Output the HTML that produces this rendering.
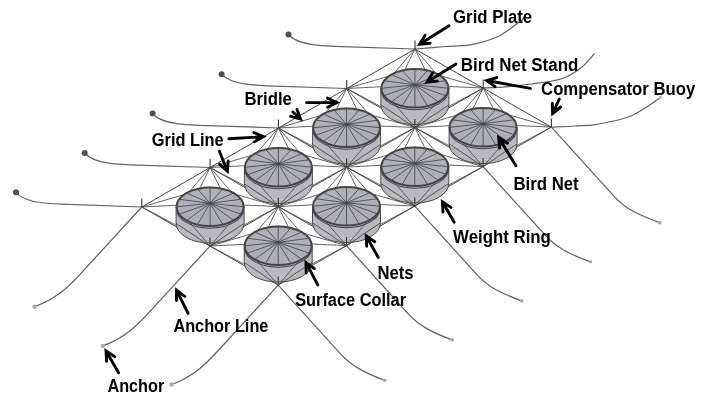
<!DOCTYPE html>
<html><head><meta charset="utf-8"><title>Net pen grid mooring</title>
<style>
html,body{margin:0;padding:0;background:#fff}
svg{display:block}
.l{fill:none;stroke:#4a4a4a;stroke-width:.85}
.g{fill:none;stroke:#444;stroke-width:1}
.a{fill:none;stroke:#646464;stroke-width:1.25;stroke-linecap:round}
.b{fill:none;stroke:#333;stroke-width:1.1}
.body{fill:#b0b0b8;fill-opacity:.9;stroke:#4a4a50;stroke-width:1}
.wr{fill:none;stroke:#c6c6cc;stroke-width:1}
.top{fill:#aeaeb6;fill-opacity:.96;stroke:none}
.rim{fill:none;stroke:#45454a;stroke-width:2}
.rim2{fill:none;stroke:#45454a;stroke-width:1.1}
.sp{fill:none;stroke:#4c4c52;stroke-width:.9}
.ar{fill:none;stroke:#000;stroke-width:2.9;stroke-linecap:round;stroke-linejoin:miter;stroke-miterlimit:10}
.t text{font-family:"Liberation Sans",sans-serif;font-weight:bold;font-size:17.5px;fill:#000}
</style></head><body>
<svg width="713" height="413" viewBox="0 0 713 413">
<defs><filter id="nf" x="0" y="0" width="713" height="413" filterUnits="userSpaceOnUse"><feOffset dx="0" dy="0"/></filter></defs>
<rect width="713" height="413" fill="#fff"/>
<g><path class="a" d="M288.5 34.5C292.5 39 300.6 43.1 312.8 44.6C318.9 45.4 324.9 45.8 334 46.3L415 49"/><circle cx="288.5" cy="34.5" r="3" fill="#505050"/><path class="a" d="M221.6 74.2C225.6 78.7 233.6 82.6 245.6 84.1C251.6 84.9 257.6 85.3 266.6 85.8L346.7 88.5"/><circle cx="221.6" cy="74.2" r="3" fill="#505050"/><path class="a" d="M152.6 113.5C156.6 118 164.7 122.1 176.8 123.6C182.8 124.4 188.8 124.8 197.9 125.3L278.4 128"/><circle cx="152.6" cy="113.5" r="3" fill="#505050"/><path class="a" d="M84.7 153C88.7 157.5 96.7 161.6 108.8 163.1C114.8 163.9 120.8 164.3 129.8 164.8L210.1 167.5"/><circle cx="84.7" cy="153" r="3" fill="#505050"/><path class="a" d="M16 192.3C20 196.9 28.1 201 40.2 202.5C46.2 203.3 52.2 203.7 61.3 204.2L141.8 207"/><circle cx="16" cy="192.3" r="3" fill="#505050"/><path class="a" d="M141.8 207L79.6 274.8C68.8 286.5 56 299 34.5 306.7"/><circle cx="34.5" cy="306.7" r="2.2" fill="#aaa"/><path class="a" d="M210 246.1L147.9 313.7C137.2 325.4 124.4 338.2 103 345.9"/><circle cx="103" cy="345.9" r="2.2" fill="#aaa"/><path class="a" d="M278.2 285.1L216.4 352.5C205.7 364.1 192.9 376.8 171.6 384.5"/><circle cx="171.6" cy="384.5" r="2.2" fill="#aaa"/><path class="a" d="M551.4 127.1L614.4 196.7C625.2 208.7 638.3 215 660 222.8"/><circle cx="660" cy="222.8" r="1.8" fill="#aaa"/><path class="a" d="M483.1 166.6L545.4 235.4C556.1 247.3 569 254.1 590.5 261.8"/><circle cx="590.5" cy="261.8" r="1.8" fill="#aaa"/><path class="a" d="M414.8 206.1L476.8 274.6C487.5 286.4 500.3 293.2 521.7 300.9"/><circle cx="521.7" cy="300.9" r="1.8" fill="#aaa"/><path class="a" d="M346.5 245.6L407.8 313.3C418.4 325 431.1 332.3 452.2 339.9"/><circle cx="452.2" cy="339.9" r="1.8" fill="#aaa"/><path class="a" d="M278.2 285.1L340 353.4C350.7 365.2 363.5 372.6 384.8 380.3"/><circle cx="384.8" cy="380.3" r="1.8" fill="#aaa"/><path class="a" d="M415 49C420 48.6 435.8 47.2 445 46.5C454.2 45.8 461.2 46.6 470 44.9C478.8 43.2 489.6 40.5 498 36.5C506.4 32.5 516.3 24.2 520.6 21C524.9 17.8 523.4 18.1 524 17.5"/><path class="a" d="M483.2 88C487.7 87.8 501.9 87.2 510 86.5C518.1 85.8 523 85.3 531.8 84C540.6 82.7 554.3 81.3 562.7 78.5C571.1 75.7 576.8 71.1 582 67C587.2 62.9 592 56.2 594 54"/><path class="a" d="M551.4 127.1C555.3 126.9 567.4 126.5 575 126C582.6 125.5 587.7 126 597 124.3C606.3 122.6 620.2 120.4 630.8 116C641.3 111.6 655.4 100.8 660.3 97.7"/><circle cx="660.3" cy="97.5" r="1.8" fill="#bbb"/></g>
<g><path class="g" d="M415 49L551.4 127.1"/><path class="g" d="M346.7 88.5L483.1 166.6"/><path class="g" d="M278.4 128L414.8 206.1"/><path class="g" d="M210.1 167.5L346.5 245.6"/><path class="g" d="M141.8 207L278.2 285.1"/><path class="g" d="M415 49L141.8 207"/><path class="g" d="M483.2 88L210 246.1"/><path class="g" d="M551.4 127.1L278.2 285.1"/></g>
<g><path class="l" d="M415 49L380.9 88.3"/><path class="l" d="M415 49L448.9 88.3"/><path class="l" d="M415 49L405 69.3"/><path class="l" d="M415 49L424.9 69.3"/><path class="l" d="M346.7 88.5L414.9 68.5"/><path class="l" d="M346.7 88.5L414.9 85"/><path class="l" d="M346.7 88.5L414.9 124.6"/><path class="l" d="M483.2 88L414.9 68.5"/><path class="l" d="M483.2 88L414.9 85"/><path class="l" d="M483.2 88L414.9 124.6"/><path class="l" d="M483.2 88L449.1 127.3"/><path class="l" d="M483.2 88L517.1 127.3"/><path class="l" d="M483.2 88L473.2 108.4"/><path class="l" d="M483.2 88L493.1 108.4"/><path class="l" d="M414.9 127.5L483.1 107.5"/><path class="l" d="M414.9 127.5L483.1 124"/><path class="l" d="M414.9 127.5L483.1 163.6"/><path class="l" d="M551.4 127.1L483.1 107.5"/><path class="l" d="M551.4 127.1L483.1 124"/><path class="l" d="M551.4 127.1L483.1 163.6"/><path class="l" d="M346.7 88.5L312.6 127.8"/><path class="l" d="M346.7 88.5L380.6 127.8"/><path class="l" d="M346.7 88.5L336.7 108.8"/><path class="l" d="M346.7 88.5L356.6 108.8"/><path class="l" d="M278.4 128L346.6 108"/><path class="l" d="M278.4 128L346.6 124.5"/><path class="l" d="M278.4 128L346.6 164.1"/><path class="l" d="M414.9 127.5L346.6 108"/><path class="l" d="M414.9 127.5L346.6 124.5"/><path class="l" d="M414.9 127.5L346.6 164.1"/><path class="l" d="M414.9 127.5L380.8 166.8"/><path class="l" d="M414.9 127.5L448.8 166.8"/><path class="l" d="M414.9 127.5L404.9 147.9"/><path class="l" d="M414.9 127.5L424.8 147.9"/><path class="l" d="M346.6 167.1L414.8 147"/><path class="l" d="M346.6 167.1L414.8 163.5"/><path class="l" d="M346.6 167.1L414.8 203.1"/><path class="l" d="M483.1 166.6L414.8 147"/><path class="l" d="M483.1 166.6L414.8 163.5"/><path class="l" d="M483.1 166.6L414.8 203.1"/><path class="l" d="M278.4 128L244.4 167.3"/><path class="l" d="M278.4 128L312.4 167.3"/><path class="l" d="M278.4 128L268.4 148.3"/><path class="l" d="M278.4 128L288.3 148.3"/><path class="l" d="M210.1 167.5L278.4 147.5"/><path class="l" d="M210.1 167.5L278.4 164"/><path class="l" d="M210.1 167.5L278.4 203.6"/><path class="l" d="M346.6 167.1L278.4 147.5"/><path class="l" d="M346.6 167.1L278.4 164"/><path class="l" d="M346.6 167.1L278.4 203.6"/><path class="l" d="M346.6 167.1L312.5 206.3"/><path class="l" d="M346.6 167.1L380.5 206.3"/><path class="l" d="M346.6 167.1L336.6 187.4"/><path class="l" d="M346.6 167.1L356.5 187.4"/><path class="l" d="M278.3 206.6L346.5 186.5"/><path class="l" d="M278.3 206.6L346.5 203"/><path class="l" d="M278.3 206.6L346.5 242.6"/><path class="l" d="M414.8 206.1L346.5 186.5"/><path class="l" d="M414.8 206.1L346.5 203"/><path class="l" d="M414.8 206.1L346.5 242.6"/><path class="l" d="M210.1 167.5L176.1 206.8"/><path class="l" d="M210.1 167.5L244.1 206.8"/><path class="l" d="M210.1 167.5L200.1 187.8"/><path class="l" d="M210.1 167.5L220 187.8"/><path class="l" d="M141.8 207L210.1 187"/><path class="l" d="M141.8 207L210.1 203.5"/><path class="l" d="M141.8 207L210.1 243.1"/><path class="l" d="M278.3 206.6L210.1 187"/><path class="l" d="M278.3 206.6L210.1 203.5"/><path class="l" d="M278.3 206.6L210.1 243.1"/><path class="l" d="M278.3 206.6L244.2 245.8"/><path class="l" d="M278.3 206.6L312.2 245.8"/><path class="l" d="M278.3 206.6L268.3 226.9"/><path class="l" d="M278.3 206.6L288.2 226.9"/><path class="l" d="M210 246.1L278.2 226"/><path class="l" d="M210 246.1L278.2 242.5"/><path class="l" d="M210 246.1L278.2 282.1"/><path class="l" d="M346.5 245.6L278.2 226"/><path class="l" d="M346.5 245.6L278.2 242.5"/><path class="l" d="M346.5 245.6L278.2 282.1"/></g>
<g><g transform="translate(414.9 88.3)"><path class="body" d="M-34 0V16.5A34 19.8 0 0 0 34 16.5V0Z"/><path class="wr" d="M-32.5 13.5A32.5 18.8 0 0 0 32.5 13.5"/><path class="l" d="M-34 16.5L0 39.3L34 16.5"/><path class="l" d="M-34 0L0 39.3L34 0"/><ellipse class="top" rx="34" ry="19.8"/><path class="sp" d="M0 -3.5L34 0M0 -3.5L31.4 7.6M0 -3.5L24 14M0 -3.5L13 18.3M0 -3.5L0 19.8M0 -3.5L-13 18.3M0 -3.5L-24 14M0 -3.5L-31.4 7.6M0 -3.5L-34 0M0 -3.5L-31.4 -7.6M0 -3.5L-24 -14M0 -3.5L-13 -18.3M0 -3.5L-0 -19.8M0 -3.5L13 -18.3M0 -3.5L24 -14M0 -3.5L31.4 -7.6"/><ellipse class="rim" rx="33.5" ry="19.3"/><path class="rim2" d="M-33.7 1.6A33.7 19.8 0 0 0 33.7 1.6"/><circle cx="0" cy="-3.5" r="1.1" fill="#444"/></g><g transform="translate(483.1 127.3)"><path class="body" d="M-34 0V16.5A34 19.8 0 0 0 34 16.5V0Z"/><path class="wr" d="M-32.5 13.5A32.5 18.8 0 0 0 32.5 13.5"/><path class="l" d="M-34 16.5L0 39.3L34 16.5"/><path class="l" d="M-34 0L0 39.3L34 0"/><ellipse class="top" rx="34" ry="19.8"/><path class="sp" d="M0 -3.5L34 0M0 -3.5L31.4 7.6M0 -3.5L24 14M0 -3.5L13 18.3M0 -3.5L0 19.8M0 -3.5L-13 18.3M0 -3.5L-24 14M0 -3.5L-31.4 7.6M0 -3.5L-34 0M0 -3.5L-31.4 -7.6M0 -3.5L-24 -14M0 -3.5L-13 -18.3M0 -3.5L-0 -19.8M0 -3.5L13 -18.3M0 -3.5L24 -14M0 -3.5L31.4 -7.6"/><ellipse class="rim" rx="33.5" ry="19.3"/><path class="rim2" d="M-33.7 1.6A33.7 19.8 0 0 0 33.7 1.6"/><circle cx="0" cy="-3.5" r="1.1" fill="#444"/></g><g transform="translate(346.6 127.8)"><path class="body" d="M-34 0V16.5A34 19.8 0 0 0 34 16.5V0Z"/><path class="wr" d="M-32.5 13.5A32.5 18.8 0 0 0 32.5 13.5"/><path class="l" d="M-34 16.5L0 39.3L34 16.5"/><path class="l" d="M-34 0L0 39.3L34 0"/><ellipse class="top" rx="34" ry="19.8"/><path class="sp" d="M0 -3.5L34 0M0 -3.5L31.4 7.6M0 -3.5L24 14M0 -3.5L13 18.3M0 -3.5L0 19.8M0 -3.5L-13 18.3M0 -3.5L-24 14M0 -3.5L-31.4 7.6M0 -3.5L-34 0M0 -3.5L-31.4 -7.6M0 -3.5L-24 -14M0 -3.5L-13 -18.3M0 -3.5L-0 -19.8M0 -3.5L13 -18.3M0 -3.5L24 -14M0 -3.5L31.4 -7.6"/><ellipse class="rim" rx="33.5" ry="19.3"/><path class="rim2" d="M-33.7 1.6A33.7 19.8 0 0 0 33.7 1.6"/><circle cx="0" cy="-3.5" r="1.1" fill="#444"/></g><g transform="translate(414.8 166.8)"><path class="body" d="M-34 0V16.5A34 19.8 0 0 0 34 16.5V0Z"/><path class="wr" d="M-32.5 13.5A32.5 18.8 0 0 0 32.5 13.5"/><path class="l" d="M-34 16.5L0 39.3L34 16.5"/><path class="l" d="M-34 0L0 39.3L34 0"/><ellipse class="top" rx="34" ry="19.8"/><path class="sp" d="M0 -3.5L34 0M0 -3.5L31.4 7.6M0 -3.5L24 14M0 -3.5L13 18.3M0 -3.5L0 19.8M0 -3.5L-13 18.3M0 -3.5L-24 14M0 -3.5L-31.4 7.6M0 -3.5L-34 0M0 -3.5L-31.4 -7.6M0 -3.5L-24 -14M0 -3.5L-13 -18.3M0 -3.5L-0 -19.8M0 -3.5L13 -18.3M0 -3.5L24 -14M0 -3.5L31.4 -7.6"/><ellipse class="rim" rx="33.5" ry="19.3"/><path class="rim2" d="M-33.7 1.6A33.7 19.8 0 0 0 33.7 1.6"/><circle cx="0" cy="-3.5" r="1.1" fill="#444"/></g><g transform="translate(278.4 167.3)"><path class="body" d="M-34 0V16.5A34 19.8 0 0 0 34 16.5V0Z"/><path class="wr" d="M-32.5 13.5A32.5 18.8 0 0 0 32.5 13.5"/><path class="l" d="M-34 16.5L0 39.3L34 16.5"/><path class="l" d="M-34 0L0 39.3L34 0"/><ellipse class="top" rx="34" ry="19.8"/><path class="sp" d="M0 -3.5L34 0M0 -3.5L31.4 7.6M0 -3.5L24 14M0 -3.5L13 18.3M0 -3.5L0 19.8M0 -3.5L-13 18.3M0 -3.5L-24 14M0 -3.5L-31.4 7.6M0 -3.5L-34 0M0 -3.5L-31.4 -7.6M0 -3.5L-24 -14M0 -3.5L-13 -18.3M0 -3.5L-0 -19.8M0 -3.5L13 -18.3M0 -3.5L24 -14M0 -3.5L31.4 -7.6"/><ellipse class="rim" rx="33.5" ry="19.3"/><path class="rim2" d="M-33.7 1.6A33.7 19.8 0 0 0 33.7 1.6"/><circle cx="0" cy="-3.5" r="1.1" fill="#444"/></g><g transform="translate(346.5 206.3)"><path class="body" d="M-34 0V16.5A34 19.8 0 0 0 34 16.5V0Z"/><path class="wr" d="M-32.5 13.5A32.5 18.8 0 0 0 32.5 13.5"/><path class="l" d="M-34 16.5L0 39.3L34 16.5"/><path class="l" d="M-34 0L0 39.3L34 0"/><ellipse class="top" rx="34" ry="19.8"/><path class="sp" d="M0 -3.5L34 0M0 -3.5L31.4 7.6M0 -3.5L24 14M0 -3.5L13 18.3M0 -3.5L0 19.8M0 -3.5L-13 18.3M0 -3.5L-24 14M0 -3.5L-31.4 7.6M0 -3.5L-34 0M0 -3.5L-31.4 -7.6M0 -3.5L-24 -14M0 -3.5L-13 -18.3M0 -3.5L-0 -19.8M0 -3.5L13 -18.3M0 -3.5L24 -14M0 -3.5L31.4 -7.6"/><ellipse class="rim" rx="33.5" ry="19.3"/><path class="rim2" d="M-33.7 1.6A33.7 19.8 0 0 0 33.7 1.6"/><circle cx="0" cy="-3.5" r="1.1" fill="#444"/></g><g transform="translate(210.1 206.8)"><path class="body" d="M-34 0V16.5A34 19.8 0 0 0 34 16.5V0Z"/><path class="wr" d="M-32.5 13.5A32.5 18.8 0 0 0 32.5 13.5"/><path class="l" d="M-34 16.5L0 39.3L34 16.5"/><path class="l" d="M-34 0L0 39.3L34 0"/><ellipse class="top" rx="34" ry="19.8"/><path class="sp" d="M0 -3.5L34 0M0 -3.5L31.4 7.6M0 -3.5L24 14M0 -3.5L13 18.3M0 -3.5L0 19.8M0 -3.5L-13 18.3M0 -3.5L-24 14M0 -3.5L-31.4 7.6M0 -3.5L-34 0M0 -3.5L-31.4 -7.6M0 -3.5L-24 -14M0 -3.5L-13 -18.3M0 -3.5L-0 -19.8M0 -3.5L13 -18.3M0 -3.5L24 -14M0 -3.5L31.4 -7.6"/><ellipse class="rim" rx="33.5" ry="19.3"/><path class="rim2" d="M-33.7 1.6A33.7 19.8 0 0 0 33.7 1.6"/><circle cx="0" cy="-3.5" r="1.1" fill="#444"/></g><g transform="translate(278.2 245.8)"><path class="body" d="M-34 0V16.5A34 19.8 0 0 0 34 16.5V0Z"/><path class="wr" d="M-32.5 13.5A32.5 18.8 0 0 0 32.5 13.5"/><path class="l" d="M-34 16.5L0 39.3L34 16.5"/><path class="l" d="M-34 0L0 39.3L34 0"/><ellipse class="top" rx="34" ry="19.8"/><path class="sp" d="M0 -3.5L34 0M0 -3.5L31.4 7.6M0 -3.5L24 14M0 -3.5L13 18.3M0 -3.5L0 19.8M0 -3.5L-13 18.3M0 -3.5L-24 14M0 -3.5L-31.4 7.6M0 -3.5L-34 0M0 -3.5L-31.4 -7.6M0 -3.5L-24 -14M0 -3.5L-13 -18.3M0 -3.5L-0 -19.8M0 -3.5L13 -18.3M0 -3.5L24 -14M0 -3.5L31.4 -7.6"/><ellipse class="rim" rx="33.5" ry="19.3"/><path class="rim2" d="M-33.7 1.6A33.7 19.8 0 0 0 33.7 1.6"/><circle cx="0" cy="-3.5" r="1.1" fill="#444"/></g></g>
<g><path class="b" d="M415 49v-8.5"/><path class="b" d="M483.2 88v-8.5"/><path class="b" d="M551.4 127.1v-8.5"/><path class="b" d="M346.7 88.5v-8.5"/><path class="b" d="M414.9 127.5v-8.5"/><path class="b" d="M483.1 166.6v-8.5"/><path class="b" d="M278.4 128v-8.5"/><path class="b" d="M346.6 167.1v-8.5"/><path class="b" d="M414.8 206.1v-8.5"/><path class="b" d="M210.1 167.5v-8.5"/><path class="b" d="M278.3 206.6v-8.5"/><path class="b" d="M346.5 245.6v-8.5"/><path class="b" d="M141.8 207v-8.5"/><path class="b" d="M210 246.1v-8.5"/><path class="b" d="M278.2 285.1v-8.5"/></g>
<g><path class="ar" d="M449 25.8L419.7 44.2M425.1 35.3L419.7 44.2L430.1 43.2"/><path class="ar" d="M456 64L427 82.1M432.5 73.3L427 82.1L437.4 81.1"/><path class="ar" d="M530.4 88.4L486.7 80.5M496.7 77.6L486.7 80.5L495 86.7"/><path class="ar" d="M559.3 99.1L552.6 113.5M552.3 103.1L552.6 113.5L560.7 107"/><path class="ar" d="M306.5 102.6L336.9 102.6M327.5 107.2L336.9 102.6L327.5 98"/><path class="ar" d="M292.9 112L300.7 119.1M290.7 116.3L300.7 119.1L297 109.4"/><path class="ar" d="M228.9 138.7L263.5 136.7M254.4 141.8L263.5 136.7L253.9 132.6"/><path class="ar" d="M219.4 151.3L227.4 171.2M219.6 164.3L227.4 171.2L228.2 160.9"/><path class="ar" d="M515.9 165.8L498.7 137.6M507.5 143.2L498.7 137.6L499.6 148"/><path class="ar" d="M454.2 222.2L442.4 201.7M451 207.4L442.4 201.7L443 212.1"/><path class="ar" d="M378.3 257.6L366.2 235.8M374.8 241.7L366.2 235.8L366.7 246.2"/><path class="ar" d="M317.8 284.9L306 262.6M314.4 268.7L306 262.6L306.2 273"/><path class="ar" d="M188.1 313.4L176.5 290.1M184.8 296.3L176.5 290.1L176.5 300.5"/><path class="ar" d="M118.6 372.7L106 350.9M114.7 356.6L106 350.9L106.6 361.3"/></g>
<g class="t" filter="url(#nf)"><text x="453.1" y="22.5" textLength="79.1" lengthAdjust="spacingAndGlyphs">Grid Plate</text><text x="460.7" y="71.4" textLength="117.7" lengthAdjust="spacingAndGlyphs">Bird Net Stand</text><text x="541.1" y="94.9" textLength="154.1" lengthAdjust="spacingAndGlyphs">Compensator Buoy</text><text x="244.4" y="104.8" textLength="47.5" lengthAdjust="spacingAndGlyphs">Bridle</text><text x="151.8" y="146.3" textLength="71.9" lengthAdjust="spacingAndGlyphs">Grid Line</text><text x="513.4" y="190.1" textLength="65.3" lengthAdjust="spacingAndGlyphs">Bird Net</text><text x="453.1" y="243.3" textLength="97.8" lengthAdjust="spacingAndGlyphs">Weight Ring</text><text x="377.5" y="279.1" textLength="36" lengthAdjust="spacingAndGlyphs">Nets</text><text x="295.2" y="305.8" textLength="110.8" lengthAdjust="spacingAndGlyphs">Surface Collar</text><text x="173.4" y="332" textLength="95" lengthAdjust="spacingAndGlyphs">Anchor Line</text><text x="107.4" y="391.8" textLength="56.9" lengthAdjust="spacingAndGlyphs">Anchor</text></g>
</svg>
</body></html>
